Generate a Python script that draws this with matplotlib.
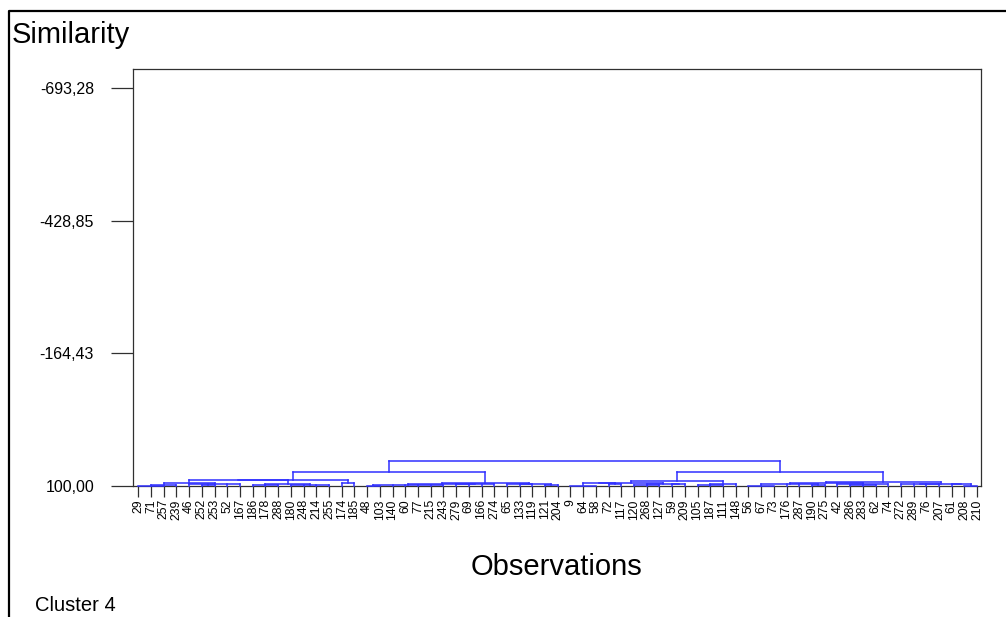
import matplotlib

matplotlib.use("Agg")
import matplotlib.pyplot as plt  # noqa: E402
from matplotlib.lines import Line2D  # noqa: E402

plt.rcParams["font.family"] = ["Liberation Sans", "DejaVu Sans"]

# leaf order along the x axis
leaves = [29, 71, 257, 239, 46, 252, 253, 52, 167, 186, 178, 288, 180, 248,
          214, 255, 174, 185, 48, 103, 140, 60, 77, 215, 243, 279, 69, 166,
          274, 65, 133, 119, 121, 204, 9, 64, 58, 72, 117, 120, 268, 127, 59,
          209, 105, 187, 111, 148, 56, 67, 73, 176, 287, 190, 275, 42, 286,
          283, 62, 74, 272, 289, 76, 207, 61, 208, 210]

# y ticks (similarity), labels use decimal comma
yticks = [-693.28, -428.85, -164.43, 100.00]
ytick_labels = ["-693,28", "-428,85", "-164,43", "100,00"]

# sub-clusters: [similarity, child, child, ...]
left_a = [88,
          [89,
           [94, [98, [100, 29, 71, 257], 239], [96, 46, [98, 252, 253], 52, 167]],
           [97, [98, 186, 178, 288], [99, 180, 248, 214, 255]]],
          [95, 174, 185]]
left_b = [93.3,
          [97, [98, [100, 48, 103], 140, 60, 77, 215, 243], [97, 279, 69, 166, 274]],
          [96, 65, [97, 133, 119], [98, 121, 204]]]
right_a = [89.4,
           [94, [95, [100, 9, 64, 58], [97, 72, 117]],
            [96, [98, 120, 268, 127], [97, 59, 209]]],
           [97, [99, 105, 187, 111], 148]]
right_b = [92.6,
           [95, [97, [100, 56, 67, 73], 176, 287, [99, 190, 275]],
            [96, 42, [98, 286, 283, 62], 74]],
           [95.5, [97, 272, 289, 76, 207], [96, 61, [100, 208, 210]]]]
tree = [50, [72, left_a, left_b], [72, right_a, right_b]]

W, H = 1006, 617
fig = plt.figure(figsize=(W / 100, H / 100), dpi=100)
ax = fig.add_axes([133 / W, 1 - 486 / H, (981 - 133) / W, (486 - 69) / H])

pos = {lab: i for i, lab in enumerate(leaves)}
blue = "#3030ff"


def draw(node):
    if isinstance(node, int):
        return pos[node], 100.0
    h, *kids = node
    pts = [draw(k) for k in kids]
    for x, y in pts:
        ax.plot([x, x], [y, h], color=blue, lw=1.1, clip_on=False, zorder=3)
    ax.plot([pts[0][0], pts[-1][0]], [h, h], color=blue, lw=1.1,
            clip_on=False, zorder=3)
    return (pts[0][0] + pts[-1][0]) / 2, h


draw(tree)

ax.set_xlim(-0.42, len(leaves) - 0.7)
ax.set_ylim(100, -731.5)
ax.set_yticks(yticks)
ax.set_yticklabels(ytick_labels, fontsize=11.5)
ax.set_xticks(range(len(leaves)))
ax.set_xticklabels([str(v) for v in leaves], rotation=90, fontsize=8.8)
ax.tick_params(axis="y", length=16, width=0.9, pad=12, color="#303030")
ax.tick_params(axis="x", length=8, width=0.9, pad=1.5, color="#303030")
for sp in ax.spines.values():
    sp.set_linewidth(0.9)
    sp.set_color("#303030")

fig.text(12 / W, 1 - 43 / H, "Similarity", fontsize=21, va="baseline")
fig.text(556 / W, 1 - 575 / H, "Observations", fontsize=21, ha="center",
         va="baseline")
fig.text(35 / W, 1 - 611 / H, "Cluster 4", fontsize=14.5, va="baseline")

# outer frame: left and top edges only
fig.add_artist(Line2D([9 / W, 9 / W, 1], [0, 1 - 11 / H, 1 - 11 / H],
                      transform=fig.transFigure, color="black", lw=1.6))

fig.savefig("out.png", dpi=100)
